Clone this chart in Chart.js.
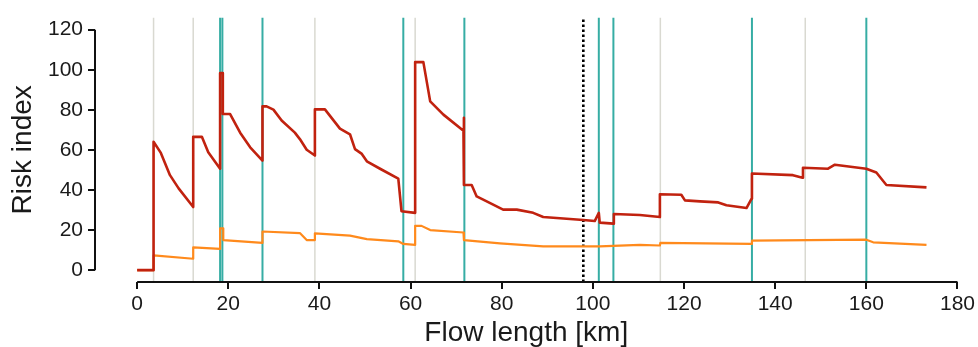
<!DOCTYPE html>
<html>
<head>
<meta charset="utf-8">
<script src="https://cdn.jsdelivr.net/npm/chart.js@4"></script>
<style>
  html, body { margin: 0; padding: 0; background: #fff; }
</style>
</head>
<body>
<canvas id="chart" width="978" height="347"></canvas>
<script>
// risk index along the flow path, [km, value]
const redSeries = [
  [0, 0], [3.6, 0], [3.6, 64.1], [5.2, 58.5], [7.2, 47.4], [9.1, 40.8], [12.3, 31.5],
  [12.3, 66.5], [14.2, 66.5], [15.6, 58.8], [18.2, 50.6], [18.2, 98.4], [18.8, 98.4],
  [18.8, 77.9], [20.4, 77.9], [22.6, 68.6], [24.8, 61.3], [27.5, 54.7], [27.5, 81.7],
  [28.4, 81.7], [29.9, 80.1], [31.7, 74.7], [34.6, 68.6], [35.7, 65.4], [37.2, 60.1],
  [39.0, 57.2], [39.0, 80.2], [41.2, 80.2], [44.5, 70.6], [46.7, 67.8], [47.8, 60.4],
  [49.3, 58.0], [50.4, 54.3], [53.3, 50.6], [57.3, 45.7], [58.0, 29.4], [61.0, 28.6],
  [61.0, 103.8], [62.8, 103.8], [64.3, 84.2], [67.2, 77.6], [71.6, 69.5], [71.7, 76.0],
  [71.7, 42.5], [73.4, 42.5], [74.5, 36.8], [76.7, 34.3], [80.3, 30.2], [83.3, 30.2],
  [86.9, 28.6], [89.1, 26.5], [97.9, 25.0], [100.4, 24.5], [101.3, 28.6], [101.5, 23.7],
  [104.5, 23.2], [104.6, 28.0], [110.3, 27.5], [114.7, 26.5], [114.7, 37.9], [119.4, 37.6],
  [120.2, 34.8], [123.5, 34.3], [127.5, 33.8], [129.3, 32.4], [133.7, 31.0], [134.8, 35.6],
  [134.9, 48.2], [143.9, 47.4], [146.0, 46.1], [146.1, 51.1], [151.6, 50.6], [153.1, 52.6],
  [160.0, 50.6], [162.2, 48.7], [164.4, 42.5], [173.2, 41.3]
];

const orangeSeries = [
  [0, 0], [3.6, 0], [3.6, 7.4], [12.3, 5.7], [12.3, 11.4], [18.2, 10.6], [18.2, 20.9],
  [18.9, 20.9], [18.9, 15.0], [27.5, 13.6], [27.5, 19.3], [35.7, 18.5], [37.2, 15.0],
  [39.0, 15.0], [39.0, 18.4], [46.7, 17.2], [50.4, 15.5], [57.3, 14.4], [58.4, 13.1],
  [61.0, 12.6], [61.0, 22.1], [62.4, 22.1], [64.3, 20.0], [71.6, 18.8], [71.7, 15.0],
  [79.6, 13.4], [89.1, 11.9], [101.5, 11.9], [110.3, 12.6], [114.7, 12.3], [114.8, 13.6],
  [134.8, 13.1], [134.9, 14.7], [160.0, 15.2], [161.5, 13.9], [173.2, 12.6]
];

// vertical marker positions [km]
const grayLines = [3.6, 12.3, 39.0, 61.0, 114.8, 146.6];
const tealLines = [18.2, 18.7, 27.5, 58.4, 71.8, 101.3, 104.5, 134.9, 160.0];
const dottedLines = [97.9];

const xTicks = [0, 20, 40, 60, 80, 100, 120, 140, 160, 180];
const yTicks = [0, 20, 40, 60, 80, 100, 120];

const X_MIN = -9.25, X_MAX = 180;
const Y_MIN = -5.9, Y_MAX = 126;

const toPoints = arr => arr.map(([x, y]) => ({ x, y }));

const vline = (x, color, width, dash) => ({
  data: [{ x, y: Y_MIN }, { x, y: Y_MAX }],
  borderColor: color,
  borderWidth: width,
  borderDash: dash || [],
  pointRadius: 0,
  order: 5,
});

const datasets = [
  { data: toPoints(redSeries), borderColor: '#C1220F', borderWidth: 2.6, pointRadius: 0, order: 0 },
  { data: toPoints(orangeSeries), borderColor: '#FF8A1C', borderWidth: 2.2, pointRadius: 0, order: 1 },
  ...grayLines.map(x => vline(x, '#D9D9D1', 1.5)),
  ...tealLines.map(x => vline(x, '#36ADA4', 2)),
  ...dottedLines.map(x => vline(x, '#000000', 2.6, [2.5, 2.5])),
];

// R-style detached axis lines
const axisLines = {
  id: 'axisLines',
  afterDraw(chart) {
    const { ctx, chartArea, scales: { x, y } } = chart;
    ctx.save();
    ctx.strokeStyle = '#111';
    ctx.lineWidth = 2;
    ctx.beginPath();
    ctx.moveTo(chartArea.left, y.getPixelForValue(yTicks[0]));
    ctx.lineTo(chartArea.left, y.getPixelForValue(yTicks[yTicks.length - 1]));
    ctx.moveTo(x.getPixelForValue(xTicks[0]), chartArea.bottom);
    ctx.lineTo(x.getPixelForValue(xTicks[xTicks.length - 1]), chartArea.bottom);
    ctx.stroke();
    ctx.restore();
  }
};

const font = { family: '"Liberation Sans", Arial, sans-serif' };

new Chart(document.getElementById('chart').getContext('2d'), {
  type: 'line',
  data: { datasets },
  options: {
    responsive: false,
    animation: false,
    layout: { padding: { top: 13, right: 20, left: 0, bottom: 0 } },
    plugins: { legend: { display: false }, tooltip: { enabled: false } },
    elements: { line: { tension: 0, borderJoinStyle: 'round' } },
    scales: {
      x: {
        type: 'linear',
        min: X_MIN,
        max: X_MAX,
        afterBuildTicks: s => { s.ticks = xTicks.map(v => ({ value: v })); },
        afterFit: s => { s.height = 65; },
        border: { display: false },
        grid: { drawOnChartArea: false, drawTicks: true, tickLength: 7, color: '#111', lineWidth: 2 },
        ticks: { color: '#1a1a1a', font: { ...font, size: 21 }, padding: 3, maxRotation: 0 },
        title: {
          display: true,
          text: 'Flow length [km]',
          color: '#1a1a1a',
          font: { ...font, size: 28, lineHeight: 1.0 },
          padding: { top: 0, bottom: 0 },
        },
      },
      y: {
        type: 'linear',
        min: Y_MIN,
        max: Y_MAX,
        afterBuildTicks: s => { s.ticks = yTicks.map(v => ({ value: v })); },
        afterFit: s => { s.width = 95; },
        border: { display: false },
        grid: { drawOnChartArea: false, drawTicks: true, tickLength: 7, color: '#111', lineWidth: 2 },
        ticks: { color: '#1a1a1a', font: { ...font, size: 21 }, padding: 5 },
        title: {
          display: true,
          text: 'Risk index',
          color: '#1a1a1a',
          font: { ...font, size: 28, lineHeight: 1.0 },
          padding: { top: 9, bottom: 0 },
        },
      },
    },
  },
  plugins: [axisLines],
});
</script>
</body>
</html>
